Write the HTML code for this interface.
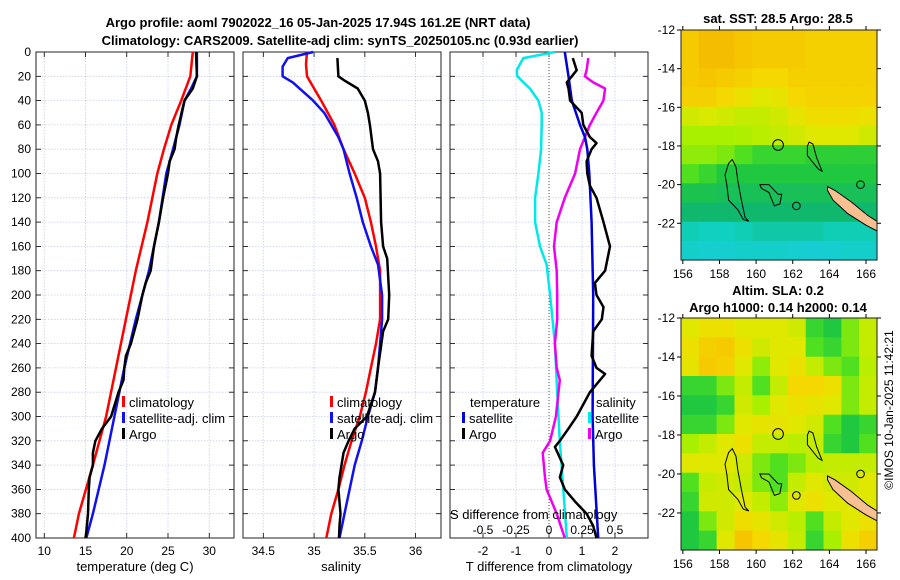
<!DOCTYPE html>
<html><head><meta charset="utf-8"><style>
html,body{margin:0;padding:0;background:#fff;}
svg{display:block;font-family:"Liberation Sans","DejaVu Sans",sans-serif;}
</style></head><body>
<svg id="fig" width="900" height="580" viewBox="0 0 900 580" xmlns="http://www.w3.org/2000/svg">
<text x="318" y="27" font-size="13" font-weight="bold" text-anchor="middle">Argo profile: aoml 7902022_16 05-Jan-2025 17.94S 161.2E (NRT data)</text>
<text x="340" y="45" font-size="13" font-weight="bold" text-anchor="middle">Climatology: CARS2009. Satellite-adj clim: synTS_20250105.nc (0.93d earlier)</text>
<text x="778" y="23" font-size="13" font-weight="bold" text-anchor="middle">sat. SST: 28.5 Argo: 28.5</text>
<text x="778" y="295" font-size="13" font-weight="bold" text-anchor="middle">Altim. SLA: 0.2</text>
<text x="778" y="312" font-size="13" font-weight="bold" text-anchor="middle">Argo h1000: 0.14 h2000: 0.14</text>
<text transform="translate(893,410) rotate(-90)" font-size="12" text-anchor="middle">©IMOS 10-Jan-2025 11:42:21</text>
</svg>
<script>
// ---------- data ----------
const depthTicks=[0,20,40,60,80,100,120,140,160,180,200,220,240,260,280,300,320,340,360,380,400];
const tempTicks=[10,15,20,25,30];
const salTicks=[34.5,35,35.5,36];
const tdiffTicks=[-2,-1,0,1,2];
const sdiffTicks=[-0.5,-0.25,0,0.25,0.5];
const sdiffTickLabels=["-0.5","-0.25","0","0.25","0.5"];
const lonTicks=[156,158,160,162,164,166];
const latTicks=[-12,-14,-16,-18,-20,-22];

const tClimDepth=[0,20,40,60,80,100,140,180,220,260,300,340,380,400];
const tClimVal=[28.0,27.7,26.6,25.4,24.5,23.7,22.5,21.1,19.9,18.7,17.5,15.9,14.2,13.6];
const tSatDepth=[0,20,30,40,60,80,100,140,180,220,260,300,340,380,400];
const tSatVal=[28.5,28.5,27.8,27.0,26.4,25.6,24.8,23.9,22.7,21.1,19.7,18.5,17.3,15.9,15.1];
const tArgoDepth=[0,20,30,40,60,70,80,90,100,120,140,160,170,180,190,200,220,240,250,260,270,280,300,310,320,330,340,350,360,380,395,400];
const tArgoVal=[28.4,28.5,28.0,27.0,26.3,26.0,25.8,25.2,25.0,24.4,23.9,23.3,23.1,22.9,22.3,21.9,21.3,20.5,19.9,19.7,19.6,19.0,18.1,17.0,16.2,15.9,15.9,15.5,15.4,15.3,15.1,15.0];

const sClimDepth=[0,10,20,30,40,60,80,100,120,140,160,180,200,220,240,260,280,300,320,340,360,380,400];
const sClimVal=[34.93,34.92,34.93,35.0,35.07,35.20,35.29,35.40,35.50,35.56,35.61,35.65,35.65,35.65,35.61,35.56,35.51,35.45,35.37,35.30,35.24,35.17,35.12];
const sSatDepth=[0,5,12,20,25,40,50,60,70,80,100,120,140,160,175,200,220,240,260,280,300,320,340,360,380,400];
const sSatVal=[34.99,34.74,34.69,34.69,34.79,34.99,35.1,35.17,35.24,35.29,35.35,35.42,35.48,35.56,35.63,35.67,35.67,35.65,35.63,35.60,35.53,35.47,35.40,35.35,35.30,35.25];
const sArgoDepth=[5,20,23,30,40,50,60,80,90,100,140,160,170,200,220,230,260,280,300,310,320,330,350,360,370,380,390,400];
const sArgoVal=[35.23,35.24,35.29,35.43,35.50,35.53,35.55,35.58,35.63,35.65,35.66,35.68,35.72,35.74,35.73,35.68,35.63,35.60,35.52,35.40,35.34,35.29,35.25,35.24,35.25,35.26,35.25,35.245];

const dTSatDepth=[0,20,40,60,70,80,100,140,200,300,340,400];
const dTSatVal=[0.48,0.59,0.69,0.94,1.09,1.16,1.22,1.29,1.34,1.32,1.36,1.49];
const dTArgoDepth=[5,15,20,25,30,40,50,60,70,75,80,90,100,110,120,140,160,180,190,200,210,220,230,250,260,265,280,290,300,310,320,325,340,350,360,370,380,390,400];
const dTArgoVal=[0.72,0.84,0.69,0.54,0.59,0.64,0.99,1.04,1.24,1.44,1.29,1.14,1.16,1.24,1.44,1.65,1.85,1.70,1.39,1.44,1.65,1.60,1.34,1.29,1.44,1.70,1.24,1.04,0.84,0.59,0.33,0.18,0.43,0.33,0.48,0.79,1.14,1.34,1.44];
const dSSatDepth=[0,5,15,20,30,40,50,60,80,100,120,140,160,175,200,240,280,320,360,400];
const dSSatVal=[0.045,-0.195,-0.245,-0.24,-0.145,-0.08,-0.055,-0.055,-0.06,-0.08,-0.105,-0.105,-0.068,-0.018,0.008,0.045,0.062,0.082,0.108,0.135];
const dSArgoDepth=[5,15,20,25,30,40,50,60,70,80,100,120,140,160,180,200,220,240,260,270,300,320,330,350,360,380,400];
const dSArgoVal=[0.298,0.285,0.272,0.335,0.425,0.412,0.36,0.31,0.272,0.235,0.198,0.12,0.058,0.038,0.058,0.062,0.062,0.045,0.058,0.082,0.052,0.008,-0.048,-0.03,-0.018,0.058,0.12];

const sstGrid=[
[.9,.95,.95,.92,.9,.9,.9,.88,.88,.88,.88],
[.9,.95,.95,.92,.9,.9,.9,.88,.88,.88,.88],
[.9,.92,.9,.88,.85,.85,.88,.88,.88,.88,.88],
[.88,.88,.85,.8,.75,.78,.85,.87,.87,.87,.87],
[.72,.74,.72,.7,.7,.72,.78,.82,.82,.82,.8],
[.65,.65,.65,.66,.68,.7,.72,.75,.75,.75,.72],
[.62,.62,.6,.55,.5,.5,.5,.48,.48,.48,.48],
[.55,.5,.45,.45,.45,.45,.45,.45,.45,.45,.45],
[.42,.42,.4,.4,.4,.4,.4,.4,.4,.4,.4],
[.35,.35,.35,.35,.35,.35,.35,.35,.35,.35,.35],
[.22,.2,.2,.22,.25,.25,.25,.25,.22,.22,.22],
[.15,.12,.12,.15,.15,.15,.12,.1,.12,.15,.15]];
const slaGrid=[
[.75,.8,.8,.75,.75,.75,.72,.5,.45,.6,.7],
[.8,.88,.9,.8,.72,.75,.75,.55,.5,.6,.7],
[.78,.9,.88,.75,.62,.75,.8,.7,.6,.55,.68],
[.5,.5,.6,.7,.55,.7,.85,.85,.8,.6,.7],
[.45,.45,.5,.72,.65,.75,.8,.78,.75,.6,.7],
[.5,.5,.6,.75,.78,.78,.75,.72,.55,.45,.5],
[.65,.7,.75,.8,.7,.7,.68,.7,.5,.45,.55],
[.75,.75,.75,.72,.6,.55,.6,.68,.7,.7,.7],
[.55,.7,.72,.7,.6,.55,.7,.75,.72,.72,.75],
[.5,.72,.72,.75,.7,.62,.75,.8,.75,.75,.75],
[.45,.6,.72,.82,.78,.72,.68,.55,.7,.75,.8],
[.45,.5,.75,.92,.85,.78,.7,.5,.65,.8,.88]];

// ---------- helpers ----------
const NS="http://www.w3.org/2000/svg";
const svg=document.getElementById('fig');
function mk(tag,attrs,parent){const e=document.createElementNS(NS,tag);for(const k in attrs)e.setAttribute(k,attrs[k]);(parent||svg).appendChild(e);return e;}
function txt(x,y,s,size,anchor,parent){const t=mk('text',{x:x,y:y,'font-size':size,'text-anchor':anchor||'middle'},parent);t.textContent=s;return t;}

const TOP=52,BOT=538;
const yD=d=>TOP+d*(BOT-TOP)/400;
const panels=[
 {x0:36,x1:234,lo:9.0,hi:33.0,name:'temperature-panel'},
 {x0:243,x1:441,lo:34.30,hi:36.25,name:'salinity-panel'},
 {x0:450,x1:648,lo:-3.0,hi:3.0,name:'difference-panel'}];
const xs=p=>v=>p.x0+(v-p.lo)*(p.x1-p.x0)/(p.hi-p.lo);
const xT=xs(panels[0]),xS=xs(panels[1]),xDiff=xs(panels[2]);
const xSd=v=>xDiff(v*4);

panels.forEach((p,i)=>{
 const g=mk('g',{});
 
 
 const ticks=i===0?tempTicks:i===1?salTicks:tdiffTicks;
 const xf=xs(p);
 depthTicks.forEach(d=>{
  mk('line',{x1:p.x0,x2:p.x1,y1:yD(d),y2:yD(d),stroke:'#c8cde8','stroke-width':0.8,'stroke-dasharray':'1.5,1.5'},g);
  mk('line',{x1:p.x0,x2:p.x0+5,y1:yD(d),y2:yD(d),stroke:'#000','stroke-width':0.8},g);
  mk('line',{x1:p.x1-5,x2:p.x1,y1:yD(d),y2:yD(d),stroke:'#000','stroke-width':0.8},g);
 });
 ticks.forEach(v=>{
  mk('line',{x1:xf(v),x2:xf(v),y1:TOP,y2:BOT,stroke:'#c8cde8','stroke-width':0.8,'stroke-dasharray':'1.5,1.5'},g);
  mk('line',{x1:xf(v),x2:xf(v),y1:TOP,y2:TOP+5,stroke:'#000','stroke-width':0.8},g);
  mk('line',{x1:xf(v),x2:xf(v),y1:BOT-5,y2:BOT,stroke:'#000','stroke-width':0.8},g);
  const t=txt(xf(v),555,String(v),12,'middle',g);
  
  
 });
 mk('rect',{x:p.x0,y:TOP,width:p.x1-p.x0,height:BOT-TOP,fill:'none',stroke:'#222','stroke-width':1},g);
});
depthTicks.forEach(d=>{
 const t=txt(31,yD(d)+4,String(d),12,'end');
 
 
});
let lab=txt(135,571,'temperature (deg C)',13);
lab=txt(341,571,'salinity',13);
lab=txt(549,571,'T difference from climatology',13);
mk('line',{x1:xDiff(0),x2:xDiff(0),y1:TOP,y2:BOT,stroke:'#554','stroke-width':1,'stroke-dasharray':'1,2'});

function line(depths,vals,xf,color,name){
 const pts=depths.map((d,i)=>xf(vals[i]).toFixed(1)+','+yD(d).toFixed(1)).join(' ');
 const e=mk('polyline',{points:pts,fill:'none',stroke:color,'stroke-width':2.5,'stroke-linejoin':'round'});
 
 
}
line(tClimDepth,tClimVal,xT,'#f00','temp-climatology-line');
line(tSatDepth,tSatVal,xT,'#1010f0','temp-satellite-line');
line(tArgoDepth,tArgoVal,xT,'#000','temp-argo-line');
line(sClimDepth,sClimVal,xS,'#f00','sal-climatology-line');
line(sSatDepth,sSatVal,xS,'#1010f0','sal-satellite-line');
line(sArgoDepth,sArgoVal,xS,'#000','sal-argo-line');
line(dSSatDepth,dSSatVal,xSd,'#00e8e8','sdiff-satellite-line');
line(dSArgoDepth,dSArgoVal,xSd,'#f000f0','sdiff-argo-line');
line(dTSatDepth,dTSatVal,xDiff,'#0000d8','tdiff-satellite-line');
line(dTArgoDepth,dTArgoVal,xDiff,'#000','tdiff-argo-line');

lab=txt(450,519,'S difference from climatology',13,'start');
sdiffTicks.forEach((v,i)=>{const t=txt(xSd(v),534,sdiffTickLabels[i],12);});

function legend(x,y,color,label,name){
 const g=mk('g',{});
 
 
 mk('rect',{x:x,y:y-11,width:3,height:11,fill:color},g);
 txt(x+7,y,label,13,'start',g);
}
legend(122,407,'#f00','climatology','legend-climatology');
legend(122,423,'#1010f0','satellite-adj. clim','legend-satellite-adj');
legend(122,439,'#000','Argo','legend-argo');
legend(330,407,'#f00','climatology','legend-sal-climatology');
legend(330,423,'#1010f0','satellite-adj. clim','legend-sal-satellite-adj');
legend(330,439,'#000','Argo','legend-sal-argo');
lab=txt(470,407,'temperature',13,'start');
lab=txt(596,407,'salinity',13,'start');
legend(462,423,'#0000d8','satellite','legend-tdiff-satellite');
legend(462,439,'#000','Argo','legend-tdiff-argo');
legend(588,423,'#00e8e8','satellite','legend-sdiff-satellite');
legend(588,439,'#f000f0','Argo','legend-sdiff-argo');

// ---------- maps ----------
const stops=[[0,[32,200,232]],[0.2,[16,208,192]],[0.35,[16,184,110]],[0.45,[32,200,64]],[0.55,[80,224,32]],[0.65,[168,240,0]],[0.75,[224,232,0]],[0.85,[245,216,0]],[1,[245,176,0]]];
function cmap(v){for(let i=1;i<stops.length;i++){if(v<=stops[i][0]){const a=stops[i-1],b=stops[i],t=(v-a[0])/(b[0]-a[0]);return 'rgb('+a[1].map((c,k)=>Math.round(c+(b[1][k]-c)*t)).join(',')+')';}}return 'rgb(245,176,0)';}
const LON0=155.9,LON1=166.6,LAT0=-12,LAT1=-23.9;
function drawMap(grid,mx0,mx1,my0,my1,name,cellName){
 const lonX=lon=>mx0+(lon-LON0)*(mx1-mx0)/(LON1-LON0);
 const latY=lat=>my0+(LAT0-lat)*(my1-my0)/(LAT0-LAT1);
 const g=mk('g',{});
 
 
 const rows=grid.length,cols=grid[0].length;
 const dLat=(LAT0-LAT1)/rows,dLon=(LON1-LON0)/cols;
 grid.forEach((row,r)=>row.forEach((v,c)=>{
  const x=lonX(LON0+c*dLon),y=latY(LAT0-r*dLat);
  const e=mk('rect',{x:x.toFixed(1),y:y.toFixed(1),width:(lonX(LON0+(c+1)*dLon)-x+0.6).toFixed(1),height:(latY(LAT0-(r+1)*dLat)-y+0.6).toFixed(1),fill:cmap(v)},g);
  
  
 }));
 const poly=(pts,fill,sw)=>mk('polygon',{points:pts.map(p=>lonX(p[0]).toFixed(1)+','+latY(p[1]).toFixed(1)).join(' '),fill:fill,stroke:'#000','stroke-width':sw||1},g);
 poly([[158.7,-18.7],[158.9,-19.1],[159.0,-19.8],[159.2,-20.8],[159.4,-21.7],[159.6,-21.9],[159.3,-21.8],[159.0,-21.3],[158.5,-20.8],[158.4,-20.0],[158.3,-19.5],[158.5,-18.9]],'none');
 poly([[162.9,-17.8],[163.1,-17.9],[163.3,-18.6],[163.6,-19.3],[163.4,-19.2],[162.8,-18.5],[162.8,-18.0]],'none');
 poly([[160.2,-20.0],[160.7,-20.0],[161.2,-20.5],[161.4,-20.5],[161.3,-21.0],[161.0,-21.1],[160.7,-20.4],[160.3,-20.2]],'none');
 const nc=poly([[163.9,-20.1],[164.3,-20.3],[165.2,-20.9],[166.1,-21.6],[166.6,-21.9],[166.6,-22.4],[166.0,-22.1],[165.0,-21.5],[164.2,-20.8],[163.9,-20.3]],'#f8c090',1);
 
 [[161.2,-17.95,0.28],[165.7,-20.0,0.2],[162.2,-21.1,0.2]].forEach(c=>mk('ellipse',{cx:lonX(c[0]),cy:latY(c[1]),rx:c[2]*19,ry:c[2]*19,fill:'none',stroke:'#000','stroke-width':1},g));
 mk('rect',{x:mx0,y:my0,width:mx1-mx0,height:my1-my0,fill:'none',stroke:'#222','stroke-width':1},g);
 lonTicks.forEach(l=>{
  mk('line',{x1:lonX(l),x2:lonX(l),y1:my1,y2:my1+4,stroke:'#000'},g);
  mk('line',{x1:lonX(l),x2:lonX(l),y1:my0-4,y2:my0,stroke:'#000'},g);
  const t=txt(lonX(l),my1+18,String(l),12,'middle',g);
  
  
 });
 latTicks.forEach(l=>{
  mk('line',{x1:mx0-4,x2:mx0,y1:latY(l),y2:latY(l),stroke:'#000'},g);
  mk('line',{x1:mx1,x2:mx1+4,y1:latY(l),y2:latY(l),stroke:'#000'},g);
  const t=txt(mx0-6,latY(l)+4,String(l),12,'end',g);
  
  
 });
}
drawMap(sstGrid,681,877,30,260,'sst-map','sst-cell');
drawMap(slaGrid,681,877,318,550,'sla-map','sla-cell');
</script>
</body></html>
